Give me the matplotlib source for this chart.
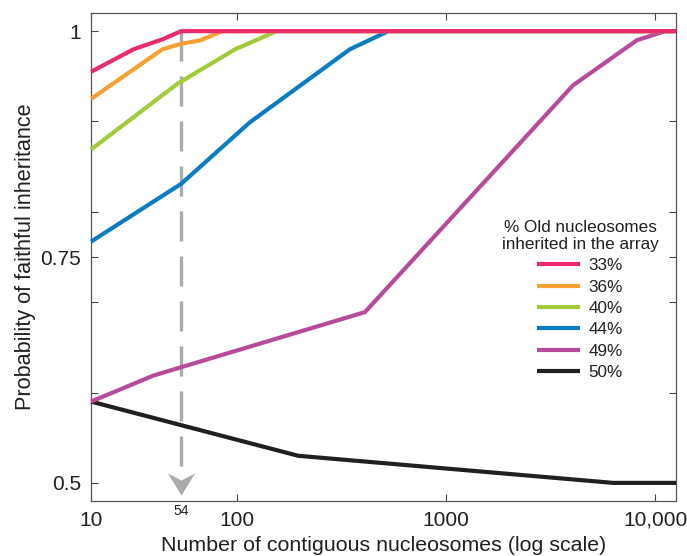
"""Probability of faithful inheritance vs. array size (log scale)."""

import matplotlib
matplotlib.use("Agg")
import matplotlib.pyplot as plt
from matplotlib.path import Path
from matplotlib.ticker import FixedLocator, NullLocator

plt.rcParams["font.family"] = ["Liberation Sans", "DejaVu Sans"]

# Data
labels = ["33%", "36%", "40%", "44%", "49%", "50%"]
colors = ["#EC2B6A", "#F7A033", "#A2CB3C", "#0A7CC1", "#B84A9C", "#231F20"]

x_33 = [20, 32, 44, 54, 12600]
y_33 = [0.955, 0.980, 0.991, 1.0, 1.0]
x_36 = [20, 44, 54, 67, 85, 12600]
y_36 = [0.925, 0.980, 0.986, 0.990, 1.0, 1.0]
x_40 = [20, 52, 98, 155, 12600]
y_40 = [0.869, 0.942, 0.980, 1.0, 1.0]
x_44 = [20, 54, 115, 347, 530, 12600]
y_44 = [0.767, 0.831, 0.899, 0.980, 1.0, 1.0]
x_49 = [20, 40, 409, 4050, 8200, 11200, 12600]
y_49 = [0.590, 0.619, 0.689, 0.940, 0.990, 1.0, 1.0]
x_50 = [20, 196, 6300, 12600]
y_50 = [0.590, 0.530, 0.500, 0.500]

series_x = [x_33, x_36, x_40, x_44, x_49, x_50]
series_y = [y_33, y_36, y_40, y_44, y_49, y_50]

# x ticks: left edge is labelled "10" in the original
xtick_pos = [20, 100, 1000, 10000]
xtick_labels = ["10", "100", "1000", "10,000"]
ytick_major = [0.5, 0.75, 1.0]
ytick_major_labels = ["0.5", "0.75", "1"]
ytick_minor = [0.6, 0.7, 0.8, 0.9]

marker_x = 54  # highlighted array size

text_color = "#231F20"
fig = plt.figure(figsize=(6.87, 5.56), dpi=100)
ax = fig.add_axes([0.1325, 0.099, 0.8515, 0.8775])

# dashed guide + arrowhead at 54
arrow_color = "#ABABAD"
ax.plot([marker_x, marker_x], [1.0, 0.505], color=arrow_color, lw=2.4,
        dashes=(9, 4.5), zorder=1)
head = Path([(0, 0), (-13.5, 22), (0, 15), (13.5, 22), (0, 0)],
            [Path.MOVETO, Path.LINETO, Path.LINETO, Path.LINETO, Path.CLOSEPOLY])
ax.plot([marker_x], [0.4867], marker=head, markersize=31.7, color=arrow_color,
        markeredgewidth=0, zorder=1, clip_on=False)

# plot from bottom (50%) to top (33%) so pink ends on top
for xs, ys, c, lab in reversed(list(zip(series_x, series_y, colors, labels))):
    ax.plot(xs, ys, color=c, lw=3, label=lab, solid_capstyle="butt",
            solid_joinstyle="miter", zorder=3, clip_on=False)

ax.set_xscale("log")
ax.set_xlim(20, 12600)
ax.set_ylim(0.48, 1.02)

ax.xaxis.set_major_locator(FixedLocator(xtick_pos))
ax.xaxis.set_minor_locator(NullLocator())
ax.set_xticklabels(xtick_labels)
ax.yaxis.set_major_locator(FixedLocator(ytick_major))
ax.yaxis.set_minor_locator(FixedLocator(ytick_minor))
ax.set_yticklabels(ytick_major_labels)

ax.tick_params(which="both", direction="in", top=True, right=True,
               length=5, width=0.8, color="#444444", labelsize=15,
               labelcolor=text_color, pad=7)
for s in ax.spines.values():
    s.set_color("#555555")
    s.set_linewidth(0.9)

ax.text(marker_x, 0.4765, "54", ha="center", va="top", fontsize=10,
        color=text_color, transform=ax.transData)

ax.set_xlabel("Number of contiguous nucleosomes (log scale)", fontsize=15.4,
              color=text_color, labelpad=4.5)
ax.set_ylabel("Probability of faithful inheritance", fontsize=15.6,
              color=text_color, labelpad=3)

handles, labs = ax.get_legend_handles_labels()
leg = ax.legend(handles[::-1], labs[::-1],
                title="% Old nucleosomes\ninherited in the array",
                loc="upper center", bbox_to_anchor=(0.836, 0.608),
                frameon=False, fontsize=12.3, title_fontsize=12.3,
                handlelength=2.5, handletextpad=0.5, labelspacing=0.37)
leg.get_title().set_multialignment("center")
leg.get_title().set_color(text_color)
leg.get_title().set_linespacing(1.2)
for t in leg.get_texts():
    t.set_color(text_color)

fig.savefig("out.png", dpi=100)
